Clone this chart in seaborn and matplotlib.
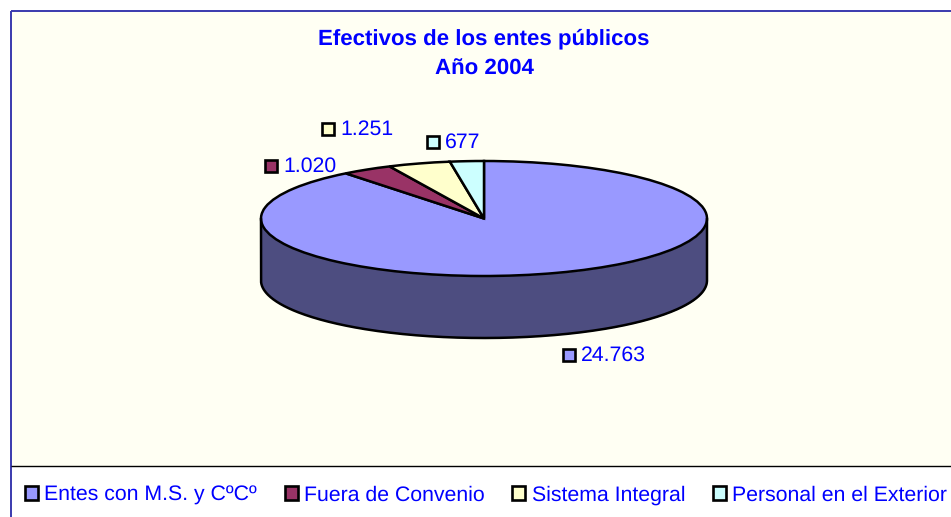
import numpy as np
import matplotlib
matplotlib.use("Agg")
import matplotlib.pyplot as plt
from matplotlib.patches import Patch, Rectangle
import seaborn as sns

categories = ["Entes con M.S. y CºCº", "Fuera de Convenio", "Sistema Integral", "Personal en el Exterior"]
values = [24763, 1020, 1251, 677]
value_labels = ["24.763", "1.020", "1.251", "677"]
title_lines = "Efectivos de los entes públicos\nAño 2004"
slice_colors = ["#9999FF", "#993366", "#FFFFCC", "#CCFFFF"]
wall_color = "#4D4D80"
text_blue = "#0000FF"

sns.set_theme(style="white")
plt.rcParams["font.family"] = ["Liberation Sans", "DejaVu Sans"]
plt.rcParams["text.hinting"] = "no_hinting"
FS = 15.3
W, H = 951, 517
fig = plt.figure(figsize=(W / 100, H / 100), dpi=100, facecolor="white")

# page layer in pixel coordinates
bg = fig.add_axes([0, 0, 1, 1], zorder=0)
bg.set_xlim(0, W)
bg.set_ylim(H, 0)
bg.axis("off")
bg.add_patch(Rectangle((11, 11), W - 11, 455, fc="#FFFFF3", ec="none"))
bg.plot([10.5, W], [10.5, 10.5], color="#3A3AAE", lw=1.4, solid_capstyle="butt")
bg.plot([10.5, 10.5], [10.5, H], color="#3A3AAE", lw=1.4, solid_capstyle="butt")
bg.plot([11, W], [466, 466], color="black", lw=1.0, solid_capstyle="butt")

# pie: axes box equals the top ellipse, unit circle squashed into it
L, R, T, B = 261, 707, 161, 276
ax = fig.add_axes([L / W, 1 - B / H, (R - L) / W, (B - T) / H], zorder=1)
ax.patch.set_alpha(0)
depth = 62 / ((B - T) / 2)
t = np.linspace(np.pi, 2 * np.pi, 300)
ax.fill_between(np.cos(t), np.sin(t), np.sin(t) - depth, color=wall_color, lw=0, clip_on=False)
outline_x = np.concatenate([[-1], np.cos(t), [1]])
outline_y = np.concatenate([[0], np.sin(t) - depth, [0]])
ax.plot(outline_x, outline_y, color="black", lw=1.8, clip_on=False)
ax.pie(values, colors=slice_colors, startangle=90, counterclock=False, radius=1,
       wedgeprops=dict(edgecolor="black", linewidth=1.8, clip_on=False))
ax.set_aspect("auto")
ax.set_xlim(-1, 1)
ax.set_ylim(-1, 1)
ax.axis("off")

# title and data labels in pixel coordinates
top = fig.add_axes([0, 0, 1, 1], zorder=2)
top.set_xlim(0, W)
top.set_ylim(H, 0)
top.axis("off")
top.patch.set_alpha(0)
top.text(484, 54, title_lines, ha="center", va="center", color=text_blue,
         fontsize=16, fontweight="bold", linespacing=1.6)

label_pos = [(563, 355), (265, 166), (322, 129), (427, 142)]
for (x, y), txt, col in zip(label_pos, value_labels, slice_colors):
    top.add_patch(Rectangle((x, y - 6), 12, 12, fc=col, ec="black", lw=1.9))
    top.text(x + 18, y + 0.5, txt, ha="left", va="center", color=text_blue, fontsize=FS)

handles = [Patch(facecolor=c, edgecolor="black", linewidth=1.9) for c in slice_colors]
fig.legend(handles, categories, ncol=4, loc="center left",
           bbox_to_anchor=(25 / W, 1 - 495 / H), frameon=False, fontsize=FS,
           labelcolor=text_blue, borderpad=0, borderaxespad=0,
           handlelength=0.61, handleheight=0.61, handletextpad=0.3, columnspacing=1.3)

fig.savefig("out.png", dpi=100, facecolor="white")
